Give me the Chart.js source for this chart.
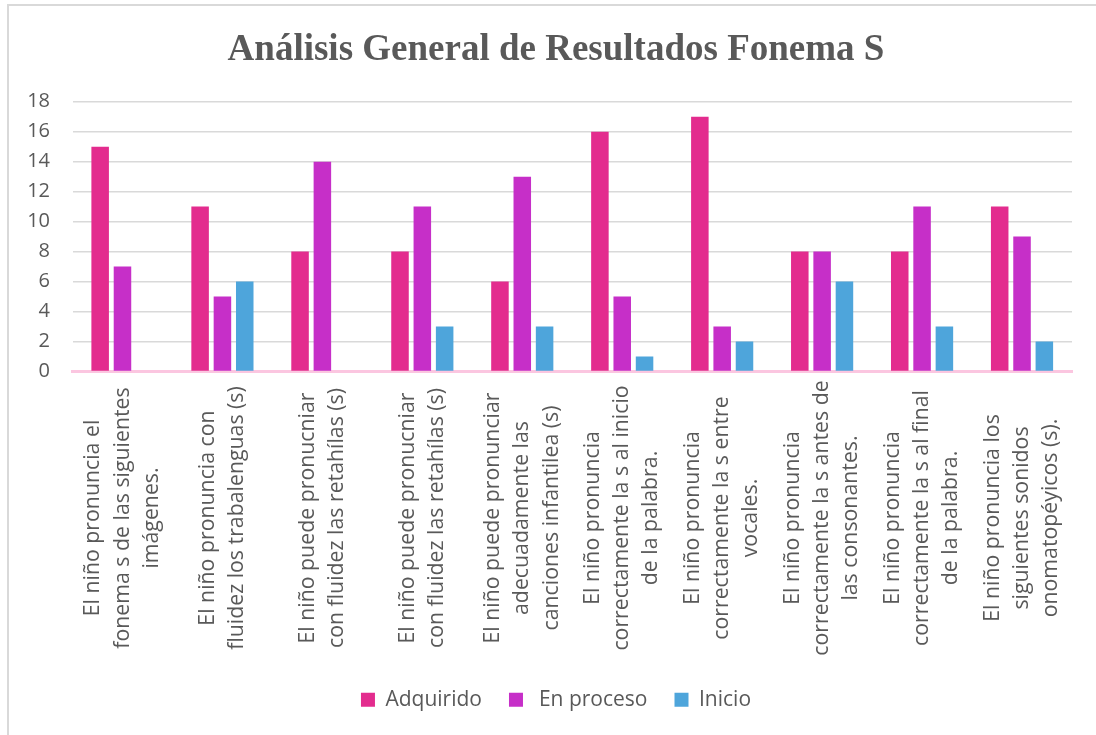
<!DOCTYPE html>
<html>
<head>
<meta charset="utf-8">
<script src="https://cdn.jsdelivr.net/npm/chart.js@4.4.0/dist/chart.umd.min.js"></script>
<style>
  html, body { margin: 0; padding: 0; background: #fff; overflow: hidden; }
  #frame { position: absolute; left: 7px; top: 4px; width: 1200px; height: 800px;
           border-left: 2px solid #d9d9d9; border-top: 2px solid #d9d9d9; }
  #wrap { position: absolute; left: 9px; top: 6px; width: 1094px; height: 729px; }
</style>
</head>
<body>
<div id="frame"></div>
<div id="wrap"><canvas id="c"></canvas></div>
<script>
const chartTitle = "Análisis General de Resultados Fonema S";
const categories = [
  ["El niño pronuncia el", "fonema s de las siguientes", "imágenes."],
  ["El niño pronuncia con", "fluidez los trabalenguas (s)"],
  ["El niño puede pronucniar", "con fluidez las retahílas (s)"],
  ["El niño puede pronucniar", "con fluidez las retahílas (s)"],
  ["El niño puede pronunciar", "adecuadamente las", "canciones infantilea (s)"],
  ["El niño pronuncia", "correctamente la s al inicio", "de la palabra."],
  ["El niño pronuncia", "correctamente la s entre", "vocales."],
  ["El niño pronuncia", "correctamente la s antes de", "las consonantes."],
  ["El niño pronuncia", "correctamente la s al final", "de la palabra."],
  ["El niño pronuncia los", "siguientes sonidos", "onomatopéyicos (s)."]
];
const seriesNames = ["Adquirido", " En proceso", "Inicio"];
const adquirido = [15, 11, 8, 8, 6, 16, 17, 8, 8, 11];
const enProceso = [7, 5, 14, 11, 13, 5, 3, 8, 11, 9];
const inicio    = [0, 6, 0, 3, 3, 1, 2, 6, 3, 2];
const yTicks = [0, 2, 4, 6, 8, 10, 12, 14, 16, 18];

const colors = ["#E32C8E", "#C62FC8", "#4EA5DB"];
const textColor = "#595959";
const FONT = "'Open Sans', 'Noto Sans', sans-serif";

const labelPlugin = {
  id: 'rotLabels',
  afterDraw(chart) {
    const xs = chart.scales.x;
    const ctx = chart.ctx;
    const lh = 29.2;
    const yc = xs.top + 146.5;
    ctx.save();
    ctx.fillStyle = textColor;
    ctx.font = "21.3px " + FONT;
    ctx.textAlign = 'center';
    ctx.textBaseline = 'middle';
    categories.forEach((lines, i) => {
      const x = xs.getPixelForValue(i);
      ctx.save();
      ctx.translate(x, yc);
      ctx.rotate(-Math.PI / 2);
      const n = lines.length;
      lines.forEach((ln, j) => {
        ctx.fillText(ln, 0, (j - (n - 1) / 2) * lh);
      });
      ctx.restore();
    });
    ctx.restore();
  }
};

new Chart(document.getElementById('c'), {
  type: 'bar',
  data: {
    labels: categories,
    datasets: [
      { label: seriesNames[0], data: adquirido, backgroundColor: colors[0] },
      { label: seriesNames[1], data: enProceso, backgroundColor: colors[1] },
      { label: seriesNames[2], data: inicio, backgroundColor: colors[2] }
    ]
  },
  options: {
    responsive: true,
    maintainAspectRatio: false,
    animation: false,
    datasets: { bar: { categoryPercentage: 0.67, barPercentage: 0.785 } },
    layout: { padding: { left: 0, right: 0, top: 0, bottom: 14.8 } },
    plugins: {
      title: {
        display: true,
        text: chartTitle,
        color: textColor,
        font: { family: "'Liberation Serif', 'Times New Roman', serif", size: 37, weight: 'bold' },
        padding: { top: 22.3, bottom: 29 }
      },
      legend: {
        position: 'bottom',
        labels: {
          boxWidth: 14, boxHeight: 14, padding: 27,
          color: textColor,
          font: { family: FONT, size: 21 }
        }
      },
      tooltip: { enabled: false }
    },
    scales: {
      x: {
        grid: { display: false },
        border: { color: '#FBC6E0', width: 3 },
        ticks: { display: false },
        afterFit: (s) => { s.height = 290.7; }
      },
      y: {
        min: 0, max: 18,
        afterBuildTicks: (s) => { s.ticks = yTicks.map(v => ({ value: v })); },
        grid: { color: '#D9D9D9', lineWidth: 1.5, drawTicks: false },
        border: { display: false },
        ticks: { color: textColor, font: { family: FONT, size: 20 }, padding: 22.5 },
        afterFit: (s) => { s.width = 63.5; }
      },
      y2: {
        position: 'right',
        display: true,
        grid: { display: false },
        border: { display: false },
        ticks: { display: false },
        afterFit: (s) => { s.width = 31; }
      }
    }
  },
  plugins: [labelPlugin]
});
</script>
</body>
</html>
